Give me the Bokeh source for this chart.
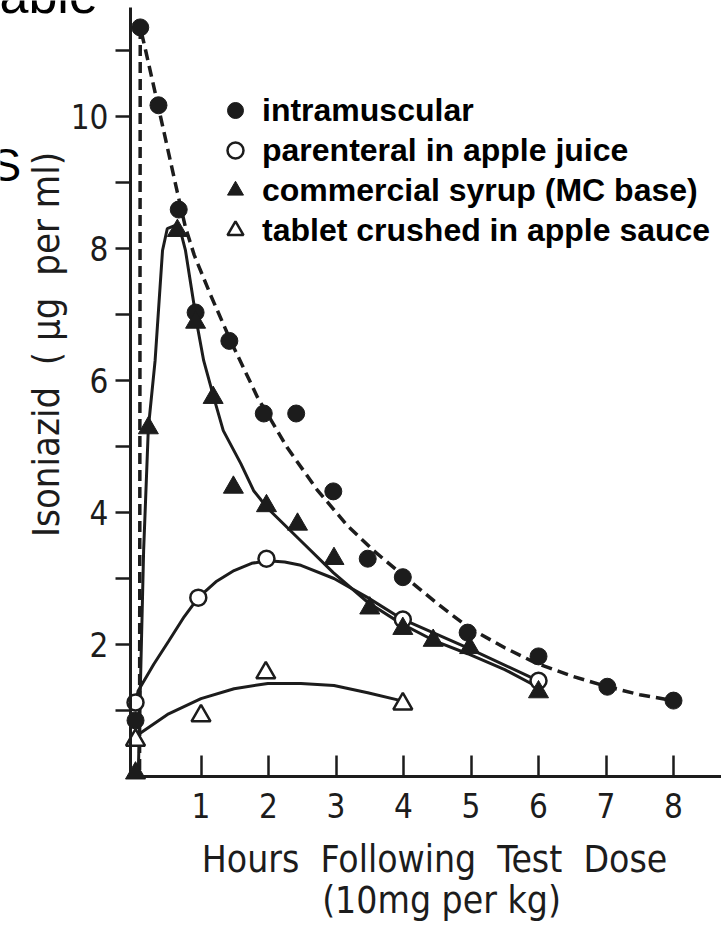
import math
from bokeh.plotting import figure
from bokeh.models import FixedTicker, Label, Legend, LegendItem
from bokeh.embed import file_html
from bokeh.resources import INLINE

# ---------------- data ----------------
# measured points
im_hours = [0.03, 0.10, 0.37, 0.67, 0.92, 1.42, 1.93, 2.41, 2.96, 3.47, 3.99, 4.95, 6.0, 7.02, 8.0]
im_conc = [0.85, 11.35, 10.17, 8.59, 7.03, 6.6, 5.5, 5.5, 4.32, 3.3, 3.02, 2.18, 1.82, 1.36, 1.15]

par_hours = [0.03, 0.96, 1.97, 3.99, 6.0]
par_conc = [1.12, 2.71, 3.3, 2.38, 1.45]

syr_hours = [0.03, 0.22, 0.65, 0.92, 1.18, 1.48, 1.97, 2.43, 2.97, 3.50, 3.99, 4.44, 4.98, 6.0]
syr_conc = [0.05, 5.28, 8.27, 6.88, 5.74, 4.38, 4.1, 3.82, 3.3, 2.55, 2.24, 2.06, 1.95, 1.28]

tab_hours = [0.03, 1.0, 1.96, 3.99]
tab_conc = [0.55, 0.92, 1.57, 1.1]

# fitted curves, as drawn in the picture
im_fit_hours = [0.09, 0.10, 0.18, 0.40, 0.65, 0.77, 0.90, 1.14, 1.44, 1.84, 2.28, 2.73, 3.17, 3.56, 3.99, 4.50, 4.96, 5.50, 5.98, 6.50, 7.02, 7.50, 7.99]
im_fit_conc = [0.10, 11.35, 11.0, 10.0, 8.85, 8.32, 7.9, 7.3, 6.6, 5.74, 4.98, 4.33, 3.80, 3.42, 3.05, 2.62, 2.26, 1.95, 1.71, 1.52, 1.36, 1.24, 1.15]

syr_fit_hours = [0.07, 0.15, 0.22, 0.32, 0.43, 0.50, 0.62, 0.70, 0.77, 0.95, 1.04, 1.19, 1.33, 1.59, 1.78, 1.99, 2.47, 2.96, 3.47, 3.96, 4.45, 4.95, 5.50, 5.98]
syr_fit_conc = [0.0, 3.42, 5.28, 6.3, 7.97, 8.3, 8.35, 8.25, 7.97, 6.8, 6.3, 5.74, 5.24, 4.74, 4.33, 4.06, 3.58, 3.09, 2.64, 2.32, 2.06, 1.86, 1.62, 1.36]

par_fit_hours = [0.03, 0.07, 0.30, 0.52, 0.75, 0.96, 1.22, 1.49, 1.75, 1.99, 2.24, 2.48, 2.97, 3.47, 3.99, 4.95, 6.0]
par_fit_conc = [1.12, 1.3, 1.7, 2.05, 2.42, 2.71, 2.95, 3.12, 3.23, 3.27, 3.25, 3.2, 3.0, 2.71, 2.38, 1.95, 1.45]

tab_fit_hours = [0.05, 0.52, 1.0, 1.49, 1.99, 2.48, 2.97, 3.47, 3.96]
tab_fit_conc = [0.62, 0.95, 1.18, 1.33, 1.41, 1.41, 1.38, 1.27, 1.15]

x_ticks = [1, 2, 3, 4, 5, 6, 7, 8]
y_ticks = [1, 2, 3, 4, 5, 6, 7, 8, 9, 10, 11]
y_labelled = [2, 4, 6, 8, 10]

legend_labels = ["intramuscular", "parenteral in apple juice",
                 "commercial syrup (MC base)", "tablet crushed in apple sauce"]

NB = "\u00a0"
x_title_1 = f"Hours{NB} Following{NB} Test{NB} Dose"
x_title_2 = "(10mg per kg)"
y_title = f"Isoniazid{NB}{NB}( \u03bcg{NB} per ml)"

# ---------------- layout helpers (canvas pixel -> data) ----------------
W, H = 721, 928
PX_X0, PX_PER_X = 133.0, 67.5     # pixel of 0 h, pixels per hour
PX_Y0, PX_PER_Y = 776.0, 66.0     # pixel of 0 ug/ml, pixels per ug/ml


def dx(px):
    return (px - PX_X0) / PX_PER_X


def dy(py):
    return (PX_Y0 - py) / PX_PER_Y


INK = "#1c1c1c"
AX_FONT = "DejaVu Sans Condensed"

# the frame covers the whole canvas; axes sit at fixed data locations
p = figure(width=W, height=H,
           x_range=(dx(0), dx(W)), y_range=(dy(H), dy(0)),
           output_backend="svg", toolbar_location=None,
           min_border_left=0, min_border_right=0,
           min_border_top=0, min_border_bottom=0)
p.outline_line_color = None
p.grid.visible = False
p.background_fill_color = "white"
p.border_fill_color = "white"

# axes
xa = p.xaxis[0]
xa.fixed_location = dy(776)
xa.bounds = (dx(130), dx(W))
xa.ticker = FixedTicker(ticks=x_ticks)
xa.axis_line_width = 3
xa.axis_line_color = INK
xa.major_tick_line_width = 2.5
xa.major_tick_line_color = INK
xa.major_tick_in = 21
xa.major_tick_out = 0
xa.minor_tick_line_color = None
xa.major_label_standoff = 16
xa.major_label_text_font = AX_FONT
xa.major_label_text_font_size = "33px"
xa.major_label_text_color = INK

ya = p.yaxis[0]
ya.fixed_location = dx(130)
ya.bounds = (dy(776), dy(7))
ya.ticker = FixedTicker(ticks=y_ticks)
ya.major_label_overrides = {v: "" for v in y_ticks if v not in y_labelled}
ya.axis_line_width = 3
ya.axis_line_color = INK
ya.major_tick_line_width = 2.5
ya.major_tick_line_color = INK
ya.major_tick_in = 0
ya.major_tick_out = 15
ya.minor_tick_line_color = None
ya.major_label_standoff = 7
ya.major_label_text_font = AX_FONT
ya.major_label_text_font_size = "33px"
ya.major_label_text_color = INK

# fitted curves
p.line(im_fit_hours, im_fit_conc, line_color=INK, line_width=3.5, line_dash="11 6")
p.line(syr_fit_hours, syr_fit_conc, line_color=INK, line_width=3)
p.line(par_fit_hours, par_fit_conc, line_color=INK, line_width=3)
p.line(tab_fit_hours, tab_fit_conc, line_color=INK, line_width=3)

# points
r_im = p.scatter(im_hours, im_conc, marker="circle", size=17,
                 fill_color=INK, line_color=INK)
r_par = p.scatter(par_hours, par_conc, marker="circle", size=16,
                  fill_color="white", line_color=INK, line_width=2.5)
r_syr = p.scatter(syr_hours, syr_conc, marker="triangle", size=20,
                  fill_color=INK, line_color=INK)
r_tab = p.scatter(tab_hours, tab_conc, marker="triangle", size=19,
                  fill_color="white", line_color=INK, line_width=2.5)

legend = Legend(
    items=[LegendItem(label=legend_labels[0], renderers=[r_im]),
           LegendItem(label=legend_labels[1], renderers=[r_par]),
           LegendItem(label=legend_labels[2], renderers=[r_syr]),
           LegendItem(label=legend_labels[3], renderers=[r_tab])],
    location=(215, H - 250), orientation="vertical",
    padding=0, margin=0, spacing=0,
    glyph_width=40, glyph_height=40, label_height=40, label_standoff=7,
    border_line_color=None, background_fill_alpha=0,
    label_text_font="Liberation Sans", label_text_font_style="bold",
    label_text_font_size="32px", label_text_color="black")
p.add_layout(legend, "center")

# axis titles
p.add_layout(Label(x=dx(434), y=dy(859), text=x_title_1,
                   text_font=AX_FONT, text_font_size="37px", text_color=INK,
                   text_align="center", text_baseline="alphabetic"))
p.add_layout(Label(x=dx(441), y=dy(900), text=x_title_2,
                   text_font=AX_FONT, text_font_size="37px", text_color=INK,
                   text_align="center", text_baseline="alphabetic"))
p.add_layout(Label(x=dx(45), y=dy(344), text=y_title,
                   angle=math.pi / 2,
                   text_font=AX_FONT, text_font_size="38px", text_color=INK,
                   text_align="center", text_baseline="middle"))

# cropped slide text remnants at the left edge
p.add_layout(Label(x=dx(-1), y=dy(-6), text="able",
                   text_font="Liberation Sans", text_font_size="52px",
                   text_color="black", text_align="left", text_baseline="alphabetic"))
p.add_layout(Label(x=dx(-10), y=dy(164), text="S",
                   text_font="Liberation Sans", text_font_size="46px",
                   text_color="black", text_align="left", text_baseline="alphabetic"))

open("out.html", "w").write(file_html(p, INLINE))
